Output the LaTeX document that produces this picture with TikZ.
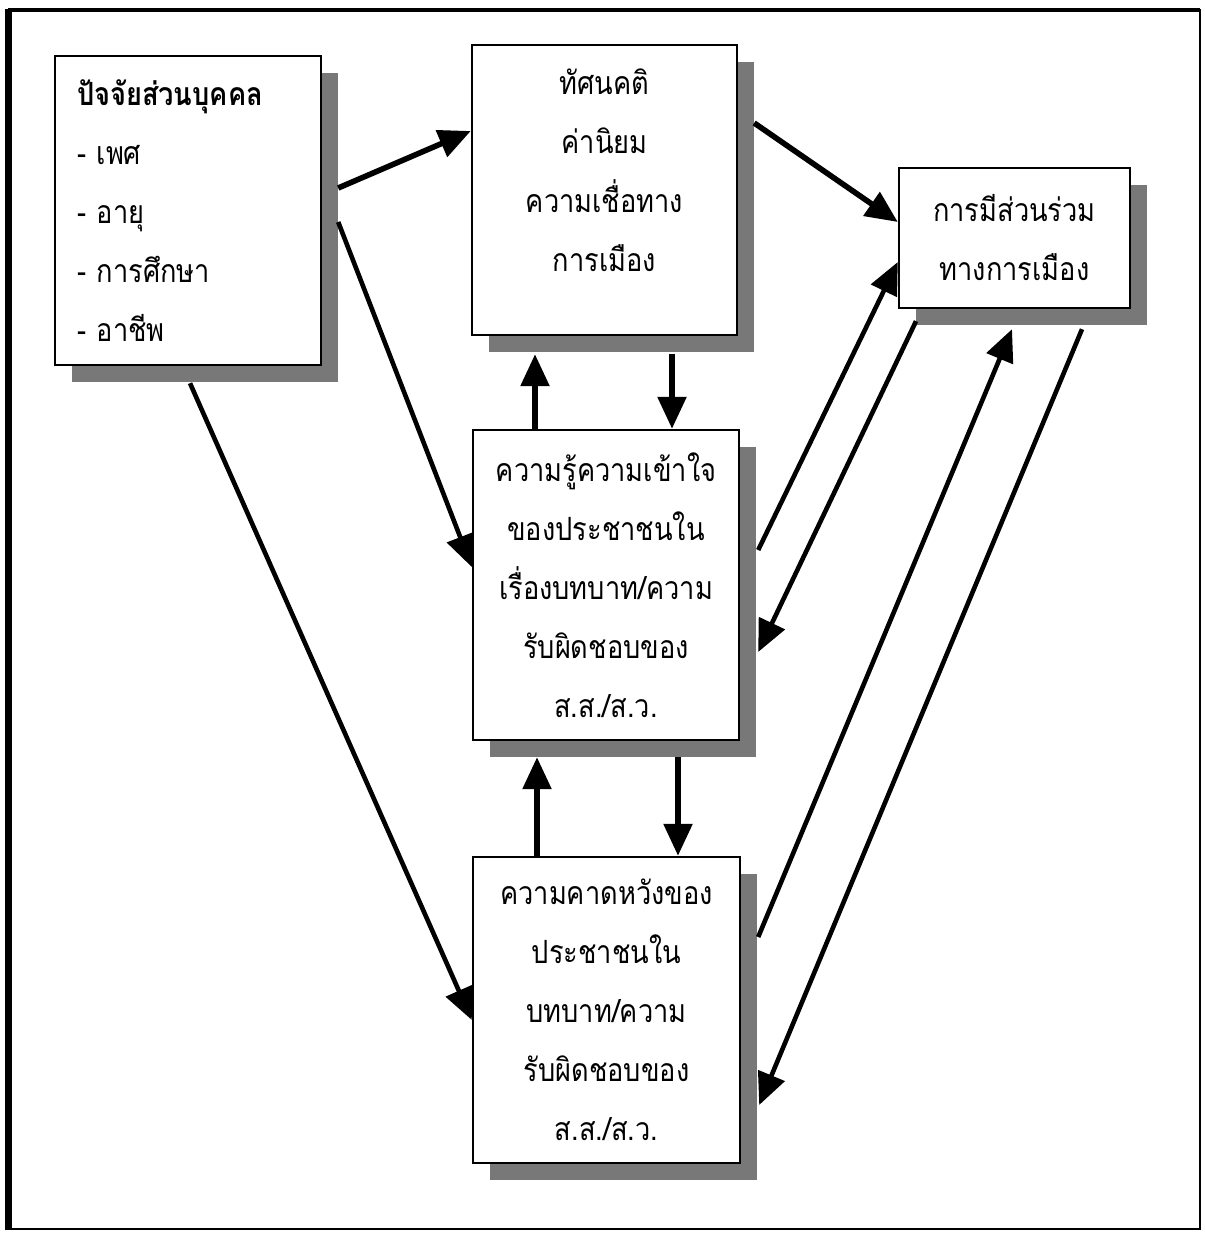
\documentclass[tikz,border=0pt]{standalone}
\usepackage{fontspec}
\setmainfont[Script=Thai,FakeStretch=0.85]{Loma}
\usetikzlibrary{arrows.meta,shadows}
\definecolor{shd}{RGB}{120,120,120}

\tikzset{
  box/.style={rectangle, draw=black, line width=1.2pt, fill=white, inner sep=3pt,
    drop shadow={shadow xshift=8.5pt, shadow yshift=-8.5pt, fill=shd, opacity=1},
    font=\fontsize{16}{29.5}\selectfont, align=center},
  arr/.style={-{Triangle[length=16pt,width=14pt]}, line width=2.3pt},
  thk/.style={arr, line width=2.8pt}
}

\begin{document}
\begin{tikzpicture}[x=0.5pt,y=0.5pt]
\useasboundingbox (0,0) rectangle (1204,-1234);
\draw [line width=1.2pt] (8,-10) rectangle (1200,-1229);
\draw [line width=3.5pt] (8,-9) -- (8,-1230);
\draw [line width=2pt] (8,-10) -- (1200,-10);
% boxes
\node (pers) [box, minimum width=133pt, minimum height=154.5pt, text width=111pt, inner xsep=11pt, align=left] at (188,-210.5) {\textbf{ปัจจัยส่วนบุคคล}\\- เพศ\\- อายุ\\- การศึกษา\\- อาชีพ};
\node (att) [box, minimum width=132.5pt, minimum height=145pt] at (604.5,-190) {ทัศนคติ\\ค่านิยม\\ความเชื่อทาง\\การเมือง\rule[-20pt]{0pt}{20pt}};
\node (part) [box, minimum width=115.5pt, minimum height=70pt] at (1014.5,-238) {การมีส่วนร่วม\\ทางการเมือง};
\node (know) [box, minimum width=133pt, minimum height=155pt] at (606,-585) {ความรู้ความเข้าใจ\\ของประชาชนใน\\เรื่องบทบาท/ความ\\รับผิดชอบของ\\ส.ส./ส.ว.};
\node (expe) [box, minimum width=133.5pt, minimum height=153pt] at (606.5,-1010) {ความคาดหวังของ\\ประชาชนใน\\บทบาท/ความ\\รับผิดชอบของ\\ส.ส./ส.ว.};
% arrows
\draw [thk] ([shift={(16,22.5)}]pers.east) -- ([shift={(0,59)}]att.west);
\draw [thk] ([shift={(16,67)}]att.east) -- ([shift={(0,16)}]part.west);
\draw [arr] ([shift={(16,-11.5)}]pers.east) -- ([shift={(0,18)}]know.west);
\draw [arr] ([shift={(2,-17)}]pers.south) -- ([shift={(0,-10)}]expe.west);
\draw [thk] ([shift={(-71,0)}]know.north) -- ([shift={(-69.5,-18)}]att.south);
\draw [thk] ([shift={(67.5,-18)}]att.south) -- ([shift={(66,0)}]know.north);
\draw [thk] ([shift={(-69.5,0)}]expe.north) -- ([shift={(-69,-16)}]know.south);
\draw [thk] ([shift={(72,-16)}]know.south) -- ([shift={(71.5,0)}]expe.north);
\draw [arr] ([shift={(18,35)}]know.east) -- ([shift={(0,-24)}]part.west);
\draw [arr] ([shift={(-98.5,-12)}]part.south) -- ([shift={(18,-67)}]know.east);
\draw [arr] ([shift={(17,73)}]expe.east) -- ([shift={(-2.5,-20)}]part.south);
\draw [arr] ([shift={(67.5,-20)}]part.south) -- ([shift={(18,-95)}]expe.east);
\end{tikzpicture}
\end{document}
